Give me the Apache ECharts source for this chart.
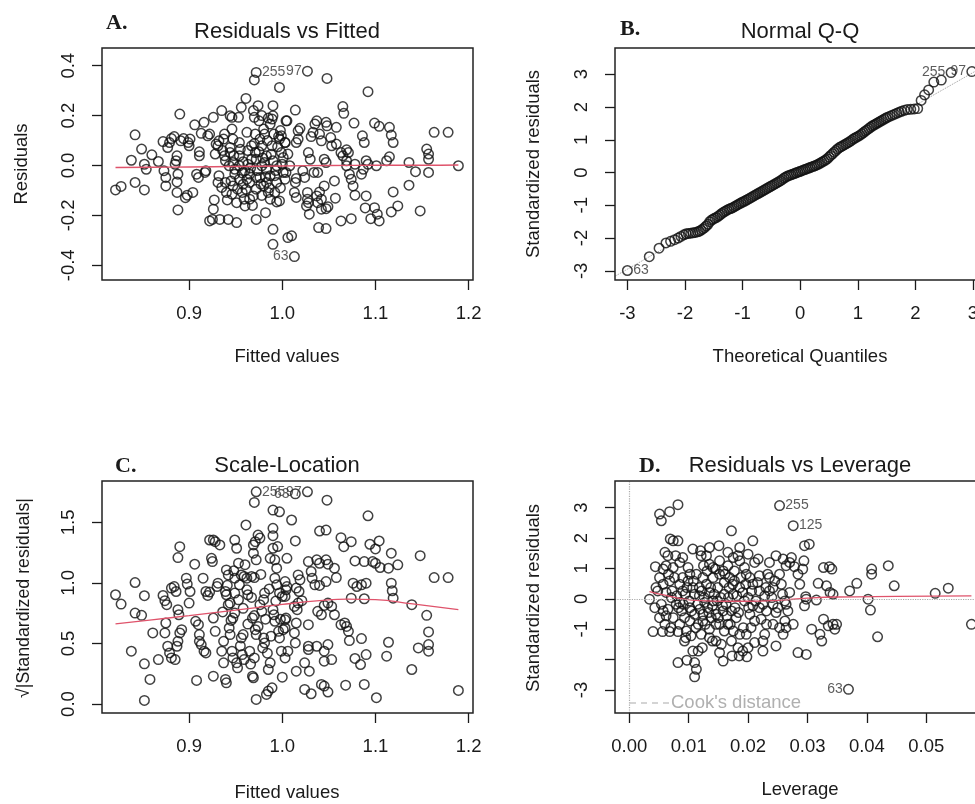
<!DOCTYPE html>
<html><head><meta charset="utf-8">
<script src="https://cdn.jsdelivr.net/npm/echarts@6/dist/echarts.min.js"></script>
<style>html,body{margin:0;padding:0;background:#fff}#c{width:975px;height:804px}</style>
</head><body><div id="c"></div>
<script>
// ---------- DATA ----------
const residVsFitted = [
[0.821,-0.098],[0.827,-0.084],[0.838,0.021],[0.842,0.123],[0.842,-0.068],[0.849,0.066],[0.852,-0.098],[0.852,0.005],[0.854,-0.015],[0.860,0.043],[0.867,0.016],[0.872,0.096],[0.873,-0.021],[0.875,-0.048],[0.875,-0.082],[0.877,0.072],[0.879,0.092],[0.881,0.108],[0.884,0.116],[0.885,0.005],[0.886,0.019],[0.887,0.039],[0.887,-0.066],[0.888,-0.035],[0.887,-0.108],[0.888,-0.178],[0.890,0.206],[0.891,0.099],[0.894,0.108],[0.896,-0.129],[0.898,-0.119],[0.899,0.092],[0.901,0.106],[0.900,0.079],[0.904,-0.108],[0.906,0.163],[0.908,-0.035],[0.910,-0.048],[0.911,0.055],[0.911,0.039],[0.913,0.129],[0.916,0.173],[0.917,-0.028],[0.918,-0.021],[0.920,0.119],[0.922,0.126],[0.922,-0.222],[0.925,-0.216],[0.926,0.193],[0.926,-0.175],[0.927,-0.138],[0.928,0.046],[0.929,0.086],[0.931,0.079],[0.932,0.099],[0.931,-0.068],[0.933,-0.216],[0.935,0.220],[0.937,0.106],[0.938,0.126],[0.938,0.039],[0.939,0.019],[0.939,-0.068],[0.940,-0.108],[0.941,-0.138],[0.942,-0.216],[0.944,0.199],[0.946,0.193],[0.944,0.072],[0.944,0.052],[0.946,0.146],[0.947,0.012],[0.949,-0.015],[0.949,-0.035],[0.951,-0.229],[0.953,0.193],[0.954,0.039],[0.956,0.233],[0.957,-0.108],[0.959,-0.135],[0.960,-0.162],[0.961,0.269],[0.962,0.133],[0.963,0.005],[0.965,-0.068],[0.969,0.220],[0.970,0.193],[0.970,0.343],[0.972,0.373],[0.971,0.126],[0.971,0.052],[0.972,0.025],[0.972,-0.216],[0.974,0.240],[0.975,0.179],[0.976,-0.048],[0.977,-0.075],[0.978,0.079],[0.980,0.146],[0.981,0.126],[0.981,0.012],[0.983,-0.015],[0.982,-0.189],[0.985,-0.108],[0.987,0.166],[0.989,0.186],[0.990,0.199],[0.990,0.240],[0.990,-0.256],[0.990,-0.316],[0.991,0.126],[0.992,-0.041],[0.994,-0.068],[0.994,-0.146],[0.997,-0.142],[0.996,0.116],[0.997,0.106],[0.999,0.119],[0.997,0.313],[0.999,0.052],[1.001,0.032],[1.001,-0.028],[1.003,-0.055],[1.005,0.179],[1.006,-0.289],[1.003,0.092],
[0.954,-0.001],[0.960,-0.021],[0.965,-0.035],[0.967,0.025],[0.972,-0.048],[0.978,-0.001],[0.983,0.039],[0.987,-0.041],[0.990,0.019],[0.989,0.079],[0.994,-0.001],[0.972,-0.095],[0.965,-0.135],[0.969,-0.122],[0.980,-0.082],[0.954,-0.055],[0.958,-0.075],[0.947,-0.082],[0.946,-0.115],[0.951,-0.149],[0.962,-0.055],[0.983,-0.068],[0.987,-0.135],[0.992,-0.108],[0.967,0.079],[0.976,0.106],[0.947,0.106],[0.954,0.092],
[0.932,-0.041],[0.935,-0.088],[0.936,0.060],[0.943,-0.001],[0.945,-0.062],[0.948,0.040],[0.952,-0.095],[0.955,0.065],[0.957,-0.030],[0.958,0.015],[0.961,-0.095],[0.963,0.060],[0.966,-0.010],[0.968,-0.160],[0.970,0.088],[0.973,-0.020],[0.975,0.055],[0.978,-0.120],[0.979,0.030],[0.982,-0.045],[0.984,0.100],[0.986,-0.090],[0.988,0.045],[0.993,-0.020],[0.995,0.075],[0.998,-0.090],[1.000,0.005],[0.998,0.140],[0.985,0.190],[0.978,0.200],
[1.027,0.378],[1.048,0.349],[1.092,0.296],[1.014,0.222],[1.065,0.236],[1.066,0.209],[1.077,0.170],[1.099,0.170],[1.104,0.157],[1.115,0.153],[1.117,0.122],[1.119,0.092],[1.163,0.133],[1.178,0.133],[1.155,0.066],[1.157,0.046],[1.157,0.025],[1.189,-0.001],[1.136,0.012],[1.143,-0.025],[1.157,-0.028],[1.136,-0.079],[1.148,-0.182],[1.119,-0.106],[1.124,-0.162],[1.117,-0.186],[1.099,-0.169],[1.102,-0.195],[1.104,-0.222],[1.095,-0.213],[1.089,-0.170],[1.074,-0.213],[1.063,-0.222],[1.090,-0.122],[1.078,-0.119],[1.076,-0.082],[1.074,-0.055],[1.072,-0.035],[1.085,-0.035],[1.087,-0.015],[1.090,0.019],[1.092,0.005],[1.101,-0.001],[1.112,0.019],[1.115,0.035],[1.086,0.119],[1.088,0.092],[1.069,0.063],[1.071,0.052],[1.063,0.052],[1.069,0.019],[1.069,-0.001],[1.056,-0.062],[1.057,-0.131],[1.040,-0.106],[1.042,-0.135],[1.038,-0.149],[1.042,-0.175],[1.047,-0.173],[1.049,-0.165],[1.039,-0.249],[1.047,-0.253],[1.029,-0.195],[1.026,-0.162],[1.028,-0.149],[1.027,-0.135],[1.027,-0.108],[1.015,-0.128],[1.014,-0.068],[1.015,-0.052],[1.013,-0.108],[1.010,-0.282],[1.013,-0.365],[1.017,0.139],[1.019,0.149],[1.035,0.166],[1.037,0.179],[1.047,0.173],[1.048,0.159],[1.058,0.153],[1.004,0.179],[1.015,0.092],[1.017,0.106],[1.031,0.116],[1.033,0.133],[1.040,0.126],[1.042,0.099],[1.052,0.112],[1.053,0.079],[1.028,0.052],[1.030,0.025],[1.045,0.025],[1.047,0.012],[1.038,-0.028],[1.022,-0.021],[1.024,-0.048],[1.006,0.046],[1.003,0.092],[1.008,-0.001],[1.004,-0.028],[1.034,-0.028],[1.045,-0.082],[1.037,-0.122],[1.065,0.039],[1.078,0.005],[1.058,0.086]
];
const qqPoints = [
[-3.00,-2.99],[-2.62,-2.57],[-2.45,-2.31],[-2.33,-2.15],[-2.25,-2.10],[-2.18,-2.05],[-2.12,-2.00],[-2.07,-1.95],[-2.02,-1.90],[-1.98,-1.87],[-1.94,-1.86],[-1.90,-1.85],[-1.86,-1.84],[-1.82,-1.83],[-1.78,-1.81],[-1.75,-1.79],[-1.72,-1.76],[-1.69,-1.72],[-1.66,-1.68],[-1.63,-1.63],[-1.60,-1.58],[-1.57,-1.50],[-1.54,-1.45],[-1.51,-1.42],[-1.48,-1.39],[-1.45,-1.37],[-1.42,-1.33],[-1.39,-1.29],[-1.36,-1.25],[-1.33,-1.21],[-1.30,-1.18],[-1.27,-1.15],[-1.24,-1.12],[-1.21,-1.10],[-1.18,-1.08],[-1.15,-1.05],[-1.12,-1.02],[-1.09,-0.99],[-1.06,-0.96],[-1.03,-0.93],[-1.00,-0.90],[-0.97,-0.88],[-0.94,-0.85],[-0.91,-0.82],[-0.88,-0.79],[-0.85,-0.76],[-0.82,-0.73],[-0.79,-0.70],[-0.76,-0.67],[-0.73,-0.64],[-0.70,-0.61],[-0.67,-0.58],[-0.64,-0.55],[-0.61,-0.52],[-0.58,-0.49],[-0.55,-0.46],[-0.52,-0.43],[-0.49,-0.40],[-0.46,-0.37],[-0.43,-0.34],[-0.40,-0.31],[-0.37,-0.28],[-0.34,-0.25],[-0.31,-0.21],[-0.28,-0.17],[-0.25,-0.14],[-0.22,-0.11],[-0.19,-0.09],[-0.16,-0.07],[-0.13,-0.05],[-0.10,-0.03],[-0.07,-0.01],[-0.04,0.01],[-0.01,0.03],[0.02,0.05],[0.05,0.07],[0.08,0.09],[0.11,0.11],[0.14,0.13],[0.17,0.15],[0.20,0.17],[0.23,0.19],[0.26,0.21],[0.29,0.23],[0.32,0.26],[0.35,0.29],[0.38,0.32],[0.41,0.35],[0.44,0.38],[0.47,0.42],[0.50,0.47],[0.53,0.52],[0.56,0.57],[0.59,0.62],[0.62,0.67],[0.65,0.72],[0.68,0.76],[0.71,0.79],[0.74,0.82],[0.77,0.85],[0.80,0.88],[0.83,0.91],[0.86,0.94],[0.89,0.98],[0.92,1.02],[0.95,1.05],[0.98,1.08],[1.01,1.11],[1.04,1.14],[1.07,1.18],[1.10,1.22],[1.13,1.26],[1.16,1.30],[1.19,1.34],[1.22,1.38],[1.25,1.42],[1.28,1.45],[1.31,1.48],[1.34,1.51],[1.37,1.54],[1.40,1.57],[1.43,1.60],[1.46,1.63],[1.49,1.66],[1.52,1.69],[1.56,1.72],[1.60,1.75],[1.64,1.78],[1.68,1.81],[1.72,1.84],[1.76,1.87],[1.81,1.90],[1.86,1.92],[1.92,1.93],[1.98,1.94],[2.04,1.95],[2.10,2.20],[2.16,2.37],[2.23,2.52],[2.32,2.76],[2.45,2.82],[2.62,3.05],[2.98,3.08]
];
const scaleLocation = [
[0.821,0.902],[0.827,0.825],[0.842,1.003],[0.852,0.894],[0.842,0.751],[0.849,0.732],[0.838,0.436],[0.852,0.332],[0.858,0.203],[0.852,0.030],[0.861,0.587],[0.867,0.367],[0.872,0.896],[0.874,0.853],[0.876,0.820],[0.875,0.669],[0.874,0.587],[0.877,0.477],[0.879,0.422],[0.881,0.381],[0.885,0.367],[0.881,0.957],[0.884,0.970],[0.886,0.929],[0.888,0.779],[0.889,0.737],[0.890,1.299],[0.888,1.209],[0.890,0.587],[0.892,0.614],[0.888,0.518],[0.887,0.477],[0.897,1.039],[0.898,0.990],[0.900,0.833],[0.901,0.929],[0.906,1.154],[0.907,0.683],[0.910,0.655],[0.908,0.195],[0.911,0.573],[0.911,0.518],[0.913,0.491],[0.915,1.039],[0.918,0.929],[0.916,0.436],[0.918,0.422],[0.920,0.896],[0.922,0.924],[0.922,1.354],[0.926,1.354],[0.928,1.340],[0.924,1.203],[0.925,1.176],[0.926,0.710],[0.928,0.600],[0.926,0.230],[0.931,0.998],[0.930,0.970],[0.933,1.313],[0.935,0.436],[0.937,0.340],[0.937,0.518],[0.939,0.203],[0.940,0.175],[0.940,1.107],[0.942,1.066],[0.942,0.820],[0.944,0.833],[0.939,0.929],[0.940,0.902],[0.943,0.628],[0.944,0.573],[0.947,0.710],[0.949,0.751],[0.946,0.436],[0.947,0.381],[0.951,0.340],[0.952,0.299],[0.951,1.286],[0.949,1.354],[0.953,1.163],[0.949,1.039],[0.949,0.916],[0.954,0.984],[0.956,0.546],[0.958,0.573],[0.957,0.408],[0.959,0.367],[0.961,1.478],[0.956,1.066],[0.959,1.053],[0.962,1.039],[0.962,0.943],[0.963,0.902],[0.967,1.053],[0.970,1.044],[0.969,1.313],[0.971,1.340],[0.969,1.245],[0.972,1.190],[0.970,1.664],[0.972,1.752],[0.968,0.710],[0.970,0.730],[0.971,0.614],[0.972,0.573],[0.965,0.436],[0.970,0.381],[0.968,0.230],[0.969,0.217],[0.974,1.395],[0.976,1.370],[0.976,0.820],[0.978,0.765],[0.980,0.861],[0.981,0.916],[0.980,0.546],[0.981,0.504],[0.979,0.463],[0.972,0.038],[0.983,0.079],[0.985,0.107],[0.989,0.134],[0.985,0.285],[0.987,0.340],[0.990,1.601],[0.997,1.587],[0.990,1.450],[0.990,1.390],[0.990,1.286],[0.987,1.203],[0.992,1.190],[0.994,1.121],[0.992,1.039],[0.994,0.984],[0.990,0.779],[0.991,0.737],[0.992,0.683],[0.996,0.600],[0.997,0.546],[0.997,0.916],[1.000,0.888],[0.999,0.436],[1.000,0.222],[1.005,1.203],[1.003,0.696],[1.001,0.614],[1.005,0.970],
[0.936,0.760],[0.941,0.980],[0.945,0.690],[0.948,1.100],[0.953,0.860],[0.955,0.480],[0.958,0.790],[0.960,1.150],[0.963,0.660],[0.966,0.330],[0.967,0.880],[0.974,0.640],[0.977,1.070],[0.982,0.700],[0.984,0.420],[0.986,0.950],[0.988,0.560],[0.993,0.850],[0.995,1.300],[0.998,0.700],
[1.027,1.752],[1.014,1.735],[1.048,1.683],[1.092,1.554],[1.010,1.519],[1.014,1.346],[1.040,1.428],[1.047,1.436],[1.063,1.373],[1.066,1.299],[1.074,1.340],[1.094,1.319],[1.100,1.280],[1.104,1.346],[1.117,1.245],[1.148,1.225],[1.163,1.044],[1.178,1.044],[1.078,1.181],[1.088,1.176],[1.097,1.176],[1.100,1.162],[1.105,1.127],[1.114,1.121],[1.124,1.149],[1.117,0.998],[1.118,0.935],[1.119,0.874],[1.139,0.820],[1.155,0.732],[1.157,0.595],[1.157,0.491],[1.157,0.436],[1.146,0.463],[1.139,0.285],[1.189,0.112],[1.114,0.510],[1.112,0.395],[1.088,0.162],[1.101,0.052],[1.068,0.156],[1.085,0.540],[1.078,0.376],[1.084,0.326],[1.090,0.408],[1.072,0.524],[1.071,0.600],[1.069,0.641],[1.067,0.669],[1.063,0.655],[1.056,0.737],[1.053,0.806],[1.049,0.833],[1.045,0.814],[1.038,0.765],[1.042,0.737],[1.056,1.121],[1.058,1.044],[1.037,1.190],[1.040,1.162],[1.047,1.190],[1.049,1.154],[1.028,1.176],[1.031,1.094],[1.032,1.039],[1.035,0.984],[1.040,0.979],[1.047,1.011],[1.017,1.066],[1.019,1.025],[1.015,0.957],[1.018,0.929],[1.013,0.806],[1.016,0.779],[1.004,0.943],[1.003,0.888],[1.076,0.998],[1.080,0.970],[1.085,0.984],[1.090,0.998],[1.074,0.874],[1.088,0.869],[1.015,0.669],[1.028,0.655],[1.013,0.587],[1.014,0.504],[1.028,0.477],[1.028,0.450],[1.037,0.477],[1.049,0.491],[1.045,0.436],[1.053,0.367],[1.045,0.354],[1.024,0.340],[1.029,0.271],[1.015,0.271],[1.024,0.121],[1.031,0.085],[1.042,0.162],[1.045,0.148],[1.049,0.099],[1.004,0.710],[1.003,0.628],[1.017,0.833],[1.021,0.853],[1.003,1.011],[1.003,0.381],[1.006,0.436]
];
const residVsLeverage = [
[0.0034,-0.01],[0.0040,-1.08],[0.0056,-1.08],[0.0068,-1.08],[0.0082,-1.08],[0.0044,1.06],[0.0051,2.79],[0.0054,2.57],[0.0068,2.87],[0.0082,3.10],[0.0069,1.97],[0.0074,1.91],[0.0082,1.91],[0.0060,1.53],[0.0065,1.42],[0.0051,0.70],[0.0057,0.48],[0.0048,0.26],[0.0054,-0.18],[0.0057,-0.40],[0.0051,-0.62],[0.0060,-0.84],[0.0082,-2.10],[0.0097,-2.02],[0.0110,-2.10],[0.0113,-2.32],[0.0110,-2.57],[0.0093,-1.39],[0.0107,-1.72],[0.0116,-1.72],[0.0123,-1.61],[0.0074,1.03],[0.0085,1.20],[0.0090,1.36],[0.0107,1.64],[0.0120,1.58],[0.0121,1.42],[0.0135,1.69],[0.0151,1.75],[0.0166,1.53],[0.0172,2.24],[0.0186,1.69],[0.0200,1.47],[0.0208,1.91],[0.0211,1.20],[0.0076,0.70],[0.0085,0.48],[0.0090,0.26],[0.0099,0.59],[0.0071,0.04],[0.0079,-0.18],[0.0088,-0.40],[0.0074,-0.62],[0.0085,-0.84],[0.0096,-1.06],[0.0104,-1.22],[0.0116,-0.84],[0.0121,-1.17],[0.0113,0.81],[0.0124,0.70],[0.0118,0.37],[0.0110,0.15],[0.0130,0.48],[0.0135,0.21],[0.0141,-0.07],[0.0132,-0.29],[0.0124,-0.51],[0.0138,-0.62],[0.0146,-0.84],[0.0135,-1.00],[0.0146,-1.39],[0.0155,-1.50],[0.0158,-2.05],[0.0152,-1.77],[0.0141,1.03],[0.0152,1.25],[0.0158,0.92],[0.0166,1.09],[0.0149,0.37],[0.0160,0.15],[0.0168,0.37],[0.0177,0.59],[0.0163,-0.18],[0.0172,-0.40],[0.0180,-0.62],[0.0166,-0.84],[0.0175,-1.06],[0.0186,-1.17],[0.0172,-1.39],[0.0183,-1.61],[0.0191,-1.72],[0.0173,-1.88],[0.0185,-1.88],[0.0198,-1.91],[0.0200,-1.61],[0.0186,1.25],[0.0194,1.03],[0.0197,0.81],[0.0203,0.70],[0.0208,0.48],[0.0191,0.21],[0.0200,0.04],[0.0208,-0.23],[0.0203,-0.51],[0.0211,-0.73],[0.0205,-0.95],[0.0197,-1.17],[0.0211,-1.44],[0.0219,0.76],[0.0233,0.81],[0.0236,0.70],[0.0245,0.59],[0.0253,0.81],[0.0256,0.48],[0.0219,0.26],[0.0228,0.10],[0.0219,-0.29],[0.0231,-0.40],[0.0222,-0.67],[0.0231,-0.84],[0.0228,-1.17],[0.0225,-1.39],[0.0225,-1.72],[0.0247,1.42],[0.0259,1.31],[0.0264,1.09],[0.0270,1.20],[0.0273,1.36],[0.0278,1.06],[0.0284,0.81],[0.0287,0.48],[0.0247,-1.55],[0.0259,-1.17],[0.0264,-0.95],[0.0262,-0.73],[0.0267,-0.40],[0.0264,-0.18],[0.0270,0.21],[0.0276,-0.84],[0.0284,-1.77],[0.0298,-1.83],[0.0295,1.75],[0.0303,1.80],[0.0253,3.07],[0.0276,2.41],[0.0298,-0.01],[0.0295,-0.23],[0.0045,0.37],[0.0043,-0.29],[0.0062,0.21],[0.0065,-0.34],[0.0057,0.98],[0.0062,1.09],
[0.0102,0.81],[0.0107,0.37],[0.0118,0.10],[0.0127,-0.12],[0.0102,-0.29],[0.0110,-0.51],[0.0124,-0.73],[0.0135,-1.28],[0.0141,0.70],[0.0152,0.81],[0.0160,0.54],[0.0169,0.70],[0.0177,0.92],[0.0186,0.37],[0.0194,-0.07],[0.0175,0.15],[0.0158,-0.40],[0.0146,-0.51],[0.0152,-0.84],[0.0160,-1.06],[0.0135,1.14],[0.0130,1.42],[0.0175,1.36],[0.0183,1.42],[0.0217,1.31],[0.0236,1.20],[0.0242,-0.18],[0.0247,-0.45],[0.0242,-0.84],[0.0253,-0.95],[0.0262,-0.07],[0.0236,0.26],[0.0242,0.37],[0.0085,-0.12],[0.0093,-0.62],[0.0102,-0.73],[0.0090,0.70],[0.0099,1.03],
[0.0068,0.59],[0.0072,0.26],[0.0080,0.10],[0.0083,-0.29],[0.0091,-0.18],[0.0094,0.15],[0.0097,0.37],[0.0101,-0.07],[0.0105,-0.40],[0.0108,0.59],[0.0112,-0.95],[0.0115,-0.18],[0.0119,-0.34],[0.0122,0.26],[0.0126,0.04],[0.0128,-0.84],[0.0131,0.92],[0.0134,-0.45],[0.0137,0.37],[0.0140,-0.23],[0.0143,0.15],[0.0145,0.98],[0.0148,-0.07],[0.0150,-0.62],[0.0154,0.04],[0.0157,-0.23],[0.0161,0.81],[0.0164,-0.56],[0.0167,0.04],[0.0170,-0.84],[0.0174,0.48],[0.0178,-0.29],[0.0181,0.10],[0.0184,-0.45],[0.0188,0.70],[0.0192,-0.95],[0.0196,0.48],[0.0201,-0.29],[0.0206,0.26],[0.0213,-0.07],[0.0216,0.54],[0.0225,-0.18],[0.0230,0.37],[0.0240,0.04],[0.0250,-0.29],[0.0258,0.15],[0.0062,-0.56],[0.0066,0.81],[0.0070,-0.95],[0.0078,1.42],[0.0095,-1.28],[0.0125,1.09],[0.0140,-1.39],
[0.0294,1.25],[0.0292,0.98],[0.0297,0.07],[0.0315,-0.04],[0.0318,0.51],[0.0332,0.43],[0.0337,1.06],[0.0341,0.98],[0.0327,1.03],[0.0338,0.21],[0.0343,0.15],[0.0371,0.26],[0.0383,0.51],[0.0402,-0.01],[0.0406,-0.37],[0.0408,0.98],[0.0408,0.81],[0.0436,1.09],[0.0446,0.43],[0.0418,-1.25],[0.0515,0.18],[0.0537,0.35],[0.0576,-0.84],[0.0307,-1.00],[0.0327,-0.67],[0.0335,-0.89],[0.0321,-1.17],[0.0324,-1.39],[0.0343,-0.84],[0.0349,-0.84],[0.0346,-1.00],[0.0369,-2.98]
];
// smoothers and reference line
const smoothA = [[0.821,-0.008],[0.86,-0.007],[0.9,-0.006],[0.95,-0.004],[1.0,-0.002],[1.05,0.000],[1.1,0.001],[1.15,0.001],[1.189,0.002]];
const smoothC = [[0.821,0.661],[0.86,0.695],[0.9,0.730],[0.95,0.775],[1.0,0.822],[1.04,0.853],[1.07,0.866],[1.1,0.862],[1.14,0.826],[1.189,0.779]];
const smoothD = [[0.0034,0.24],[0.006,0.12],[0.009,0.00],[0.012,-0.06],[0.016,-0.08],[0.020,-0.08],[0.025,-0.05],[0.030,0.02],[0.035,0.06],[0.045,0.08],[0.0576,0.10]];
const qqLine = [[-3.4,-3.35],[3.4,3.45]];
// labelled observations: [id, x, y]
const labelsA = [['255',0.972,0.373],['97',1.027,0.378],['63',1.013,-0.365]];
const labelsB = [['63',-3.00,-2.99],['255',2.62,3.05],['97',2.98,3.08]];
const labelsC = [['255',0.972,1.752],['97',1.027,1.752],['63',1.014,1.735]];
const labelsD = [['255',0.0253,3.07],['125',0.0276,2.41],['63',0.0369,-2.98]];
// tick values
const ticksFitted = [0.9,1.0,1.1,1.2];
const ticksResid = [-0.4,-0.2,0.0,0.2,0.4];
const ticksQuant = [-3,-2,-1,0,1,2,3];
const ticksSqrt = [0.0,0.5,1.0,1.5];
const ticksLev = [0.00,0.01,0.02,0.03,0.04,0.05];
const ticksStdD = [-3,-2,-1,0,1,2,3];
const tickLabelsStdD = [-3,-1,0,1,2,3];

// ---------- STYLE / LAYOUT ----------
const SANS = '"Liberation Sans", Arial, sans-serif';
const SERIF = '"Liberation Serif", "Times New Roman", serif';
const INK = '#1a1a1a';
const RED = '#DF536B';
const sideA = {'255':'right','97':'left','63':'left'};
const sideB = {'63':'right','255':'left','97':'left'};
const sideC = {'255':'right','97':'left','63':'left'};
const sideD = {'255':'right','125':'right','63':'left'};

function axis(kind, gi, min, max, ticks, labels, dec){
  return {
    type:'value', gridIndex:gi, min:min, max:max, scale:false,
    splitLine:{show:false}, axisLine:{show:false, onZero:false},
    axisTick:{show:true, inside:false, length:10, customValues:ticks, lineStyle:{color:INK, width:1.3}},
    axisLabel:{show:true, margin:24, rotate: kind==='y'?90:0, fontSize:18.5, fontFamily:SANS, color:INK,
      customValues:labels, formatter:function(v){ return Number(v).toFixed(dec); }}
  };
}
function pts(i, data){
  return {type:'scatter', xAxisIndex:i, yAxisIndex:i, data:data, symbol:'circle', symbolSize:9.5,
    itemStyle:{color:'rgba(0,0,0,0)', borderColor:'#111', borderWidth:1.5}, silent:true, z:3};
}
function smooth(i, data){
  return {type:'line', xAxisIndex:i, yAxisIndex:i, data:data, smooth:true, showSymbol:false, silent:true,
    lineStyle:{color:RED, width:1.3}, z:4};
}
function lab(i, list, side){
  return {type:'scatter', xAxisIndex:i, yAxisIndex:i, symbolSize:9.5, silent:true, z:5,
    itemStyle:{color:'rgba(0,0,0,0)'},
    data:list.map(function(d){ return {name:d[0], value:[d[1],d[2]],
      label:{show:true, position:side[d[0]], distance:1, formatter:d[0], fontSize:14, fontFamily:SANS, color:'#333'}}; })};
}
function txt(t, x, y, size, opt){
  opt = opt || {};
  return {type:'text', x:x, y:y, rotation:opt.rot||0, silent:true,
    style:{text:t, x:0, y:0, fill:opt.fill||INK, font:(opt.bold?'bold ':'')+size+'px '+(opt.serif?SERIF:SANS),
      align:opt.align||'center', verticalAlign:'middle'}};
}
// open-ended frame for the right-hand panels, whose right edge lies past the page
function frame(x, y, w, h){
  return {type:'rect', silent:true, shape:{x:x, y:y, width:w, height:h},
    style:{fill:'none', stroke:'#222', lineWidth:1.5}, z:10};
}

const chart = echarts.init(document.getElementById('c'), null, {renderer:'canvas'});
const gridStyle = {show:true, borderColor:'#222', borderWidth:1.5, backgroundColor:'transparent', outerBoundsMode:'none', containLabel:false};
chart.setOption({
  animation:false,
  backgroundColor:'#fff',
  grid:[
    Object.assign({left:102, top:48, width:371, height:232}, gridStyle),
    {left:615, top:48, width:360, height:232, show:false, outerBoundsMode:'none', containLabel:false},
    Object.assign({left:102, top:481, width:371, height:232}, gridStyle),
    {left:615, top:481, width:360, height:232, show:false, outerBoundsMode:'none', containLabel:false}
  ],
  xAxis:[
    axis('x',0,0.8065,1.2047,ticksFitted,ticksFitted,1),
    axis('x',1,-3.215,3.035,ticksQuant,ticksQuant,0),
    axis('x',2,0.8065,1.2047,ticksFitted,ticksFitted,1),
    axis('x',3,-0.0024,0.0582,ticksLev,ticksLev,2)
  ],
  yAxis:[
    axis('y',0,-0.459,0.471,ticksResid,ticksResid,1),
    axis('y',1,-3.28,3.80,ticksQuant,ticksQuant,0),
    axis('y',2,-0.074,1.841,ticksSqrt,ticksSqrt,1),
    axis('y',3,-3.76,3.88,ticksStdD,tickLabelsStdD,0)
  ],
  series:[
    pts(0,residVsFitted), smooth(0,smoothA), lab(0,labelsA,sideA),
    {type:'line', xAxisIndex:1, yAxisIndex:1, data:qqLine, showSymbol:false, silent:true,
      lineStyle:{color:'#9a9a9a', width:1, type:'dotted'}, z:2},
    pts(1,qqPoints), lab(1,labelsB,sideB),
    pts(2,scaleLocation), smooth(2,smoothC), lab(2,labelsC,sideC),
    Object.assign(pts(3,residVsLeverage), {markLine:{silent:true, symbol:'none', label:{show:false},
      lineStyle:{color:'#aaaaaa', type:'dotted', width:1.2}, data:[{xAxis:0},{yAxis:0}]}}),
    smooth(3,smoothD), lab(3,labelsD,sideD)
  ],
  graphic:[
    frame(615,48,380,232),
    frame(615,481,380,232),
    txt('A.',106,23,22,{bold:true,serif:true,align:'left'}),
    txt('Residuals vs Fitted',287,32,22),
    txt('Fitted values',287,357,18.5),
    txt('Residuals',22,164,18.5,{rot:Math.PI/2}),
    txt('B.',620,29,22,{bold:true,serif:true,align:'left'}),
    txt('Normal Q-Q',800,32,22),
    txt('Theoretical Quantiles',800,357,18.5),
    txt('Standardized residuals',534,164,18.5,{rot:Math.PI/2}),
    txt('C.',115,466,22,{bold:true,serif:true,align:'left'}),
    txt('Scale-Location',287,466,22),
    txt('Fitted values',287,793,18.5),
    txt('\u221A|Standardized residuals|',24,598,17.8,{rot:Math.PI/2}),
    txt('D.',639,466,22,{bold:true,serif:true,align:'left'}),
    txt('Residuals vs Leverage',800,466,22),
    txt('Leverage',800,790,18.5),
    txt('Standardized residuals',534,598,18.5,{rot:Math.PI/2}),
    {type:'line', silent:true, shape:{x1:630,y1:703,x2:669,y2:703},
      style:{stroke:'#aaaaaa', lineWidth:1.2, lineDash:[6,5]}},
    txt("Cook's distance",671,702.5,18.5,{align:'left',fill:'#b0b0b0'})
  ]
});
</script>
</body></html>
